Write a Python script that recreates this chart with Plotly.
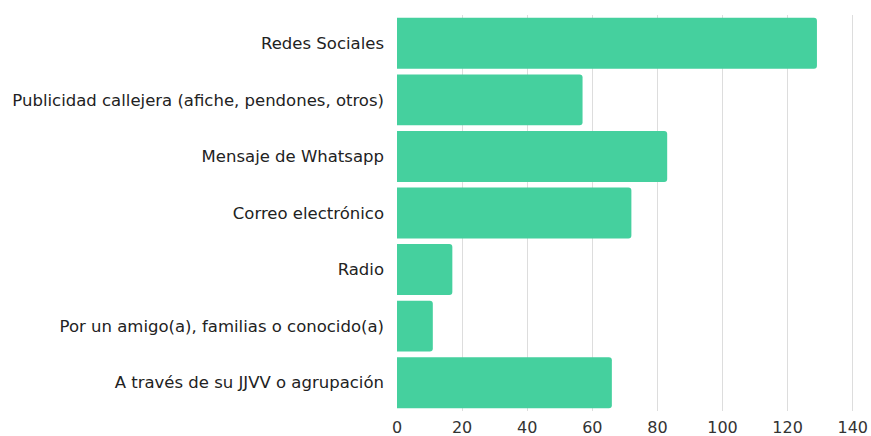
import plotly.graph_objects as go

categories = [
    "Redes Sociales",
    "Publicidad callejera (afiche, pendones, otros)",
    "Mensaje de Whatsapp",
    "Correo electrónico",
    "Radio",
    "Por un amigo(a), familias o conocido(a)",
    "A través de su JJVV o agrupación",
]
values = [129, 57, 83, 72, 17, 11, 66]
x_ticks = [0, 20, 40, 60, 80, 100, 120, 140]

fig = go.Figure(go.Bar(
    y=categories,
    x=values,
    orientation="h",
    marker=dict(color="#45D09E", cornerradius=3, line=dict(width=0)),
    hoverinfo="skip",
))

fig.update_layout(
    width=871, height=436,
    margin=dict(l=397, r=15, t=15, b=25),
    paper_bgcolor="white", plot_bgcolor="white",
    bargap=0.1,
    font=dict(family="DejaVu Sans", size=16.5, color="#222222"),
    showlegend=False,
    xaxis=dict(
        range=[0, 141], tickvals=x_ticks, showgrid=True, gridcolor="#DDDDDD",
        gridwidth=1, zeroline=False, showline=False, ticks="", automargin=False,
        ticklabelstandoff=5,
        tickfont=dict(size=16, color="#333333"),
    ),
    yaxis=dict(
        autorange="reversed", showgrid=False, zeroline=False, showline=False,
        ticks="", ticklabelstandoff=12, automargin=False,
        tickfont=dict(size=16.5, color="#222222"),
    ),
)

fig.write_html(
    "out.html",
    config={"displayModeBar": False},
    post_script="document.body.style.margin='0';document.body.style.overflow='hidden';",
)
